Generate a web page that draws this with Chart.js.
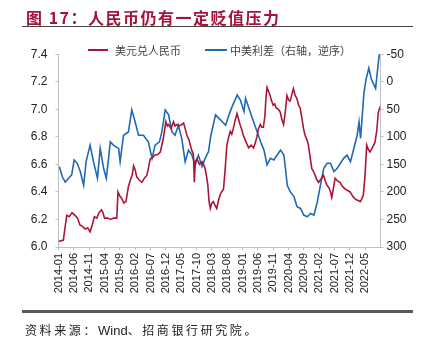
<!DOCTYPE html>
<html>
<head>
<meta charset="utf-8">
<script src="https://cdn.jsdelivr.net/npm/chart.js@4/dist/chart.umd.min.js"></script>
<style>
  html, body { margin: 0; padding: 0; background: #fff; }
  #wrap { position: relative; width: 424px; height: 348px; overflow: hidden; background: #fff; }
  #c { position: absolute; left: 0; top: 0; }
  .t { position: absolute; white-space: nowrap; }
  #title { left: 26px; top: 5px; font: bold 16px "Noto Sans CJK SC", "Liberation Sans", sans-serif; color: #A5123A; letter-spacing: 1.5px; }
  #rule1 { position: absolute; left: 22px; top: 25.5px; width: 391px; height: 1.5px; background: #444; }
  #rule2 { position: absolute; left: 22px; top: 310px; width: 391px; height: 2.5px; background: #595959; }
  #foot { left: 25px; top: 321px; font: 12px "Noto Sans CJK SC", sans-serif; color: #222; letter-spacing: 2.6px; }
  #foot span { font-family: "Liberation Sans", Arial, sans-serif; font-size: 13px; letter-spacing: 0; }
  .lg { font: 11px "Noto Sans CJK SC", sans-serif; color: #444; top: 42px; }
  .seg { position: absolute; height: 2px; top: 49px; }
</style>
</head>
<body>
<div id="wrap">
  <canvas id="c" width="424" height="348"></canvas>
  <div class="t" id="title">图 17：人民币仍有一定贬值压力</div>
  <div id="rule1"></div>
  <div class="seg" style="left:88px;width:20px;background:#AD1535"></div>
  <div class="t lg" style="left:115px">美元兑人民币</div>
  <div class="seg" style="left:205px;width:22px;background:#1F69B5"></div>
  <div class="t lg" style="left:230px">中美利差（右轴，逆序）</div>
  <div id="rule2"></div>
  <div class="t" id="foot">资料来源：<span>Wind</span>、招商银行研究院。</div>
</div>
<script>
// x-axis tick labels (every 5 months)
const tickLabels = ["2014-01","2014-06","2014-11","2015-04","2015-09","2016-02","2016-07","2016-12","2017-05","2017-10",
  "2018-03","2018-08","2019-01","2019-06","2019-11","2020-04","2020-09","2021-02","2021-07","2021-12","2022-05"];

// 美元兑人民币 (left axis)
const usdCnyDates = [
 "2014-01-01","2014-02-19","2014-03-01","2014-03-22","2014-04-16","2014-05-13","2014-06-13","2014-07-07","2014-08-01","2014-08-25",
 "2014-09-22","2014-10-16","2014-11-10","2014-12-01","2014-12-22","2015-01-16","2015-02-07","2015-03-01","2015-03-16","2015-04-01",
 "2015-05-01","2015-06-01","2015-07-01","2015-08-01","2015-08-13","2015-09-01","2015-09-22","2015-10-10","2015-11-01","2015-11-25",
 "2015-12-16","2016-01-01","2016-01-16","2016-02-01","2016-02-16","2016-03-07","2016-04-07","2016-05-01","2016-05-25","2016-06-13",
 "2016-06-28","2016-07-22","2016-08-16","2016-09-10","2016-10-07","2016-11-07","2016-12-01","2016-12-16","2016-12-28","2017-01-22",
 "2017-02-16","2017-03-01","2017-03-19","2017-04-16","2017-05-07","2017-05-25","2017-06-10","2017-06-28","2017-07-16","2017-08-01",
 "2017-08-16","2017-09-01","2017-09-10","2017-09-19","2017-10-04","2017-11-01","2017-11-25","2017-12-10","2017-12-25","2018-01-10",
 "2018-01-22","2018-02-04","2018-02-16","2018-03-01","2018-03-16","2018-04-04","2018-04-19","2018-05-07","2018-05-22","2018-06-07",
 "2018-06-25","2018-07-10","2018-07-28","2018-08-16","2018-09-01","2018-09-16","2018-10-01","2018-10-19","2018-11-07","2018-11-22",
 "2018-12-07","2018-12-25","2019-01-10","2019-02-07","2019-03-01","2019-03-25","2019-04-19","2019-05-07","2019-05-22","2019-06-07",
 "2019-06-25","2019-07-10","2019-07-25","2019-08-10","2019-08-22","2019-09-01","2019-09-16","2019-10-01","2019-10-16","2019-11-01",
 "2019-11-16","2019-12-01","2019-12-22","2020-01-10","2020-01-25","2020-02-13","2020-02-28","2020-03-16","2020-04-01","2020-04-16",
 "2020-05-01","2020-05-19","2020-06-07","2020-06-22","2020-07-10","2020-07-25","2020-08-13","2020-08-28","2020-09-13","2020-10-01",
 "2020-10-16","2020-11-01","2020-11-19","2020-12-04","2020-12-22","2021-01-07","2021-01-25","2021-02-16","2021-03-13","2021-04-01",
 "2021-04-16","2021-05-07","2021-05-22","2021-06-04","2021-06-19","2021-07-07","2021-08-01","2021-08-25","2021-09-19","2021-10-16",
 "2021-11-10","2021-12-04","2021-12-28","2022-01-22","2022-02-16","2022-03-13","2022-03-28","2022-04-13","2022-04-28","2022-05-16",
 "2022-06-01","2022-06-19","2022-07-10","2022-08-07","2022-08-25","2022-09-10","2022-09-28"
];
const usdCnyValues = [
 6.04,6.05,6.12,6.23,6.22,6.25,6.23,6.21,6.16,6.15,
 6.13,6.14,6.11,6.16,6.22,6.21,6.25,6.27,6.25,6.21,
 6.21,6.20,6.21,6.21,6.40,6.37,6.35,6.32,6.33,6.44,
 6.49,6.52,6.59,6.56,6.51,6.49,6.47,6.50,6.52,6.58,
 6.64,6.65,6.67,6.67,6.69,6.79,6.91,6.88,6.89,6.86,
 6.91,6.88,6.89,6.88,6.89,6.90,6.86,6.81,6.78,6.74,
 6.70,6.67,6.47,6.62,6.64,6.60,6.62,6.60,6.57,6.51,
 6.45,6.33,6.28,6.32,6.33,6.30,6.28,6.34,6.38,6.40,
 6.42,6.55,6.74,6.80,6.84,6.82,6.86,6.92,6.97,6.93,
 6.89,6.85,6.81,6.76,6.72,6.74,6.72,6.76,6.80,6.86,
 6.89,6.87,6.87,6.95,7.10,7.16,7.13,7.10,7.06,7.03,
 7.04,7.01,7.00,6.98,6.93,6.89,6.97,7.10,7.07,7.06,
 7.10,7.15,7.10,7.08,7.03,7.01,6.93,6.86,6.81,6.78,
 6.74,6.66,6.57,6.55,6.52,6.49,6.47,6.49,6.52,6.48,
 6.45,6.43,6.40,6.36,6.42,6.50,6.48,6.47,6.44,6.42,
 6.41,6.40,6.37,6.35,6.34,6.33,6.35,6.38,6.50,6.74,
 6.71,6.69,6.72,6.76,6.85,6.98,7.02
];

// 中美利差 (right axis, reversed, bp)
const spreadDates = [
 "2014-01-10","2014-02-07","2014-03-07","2014-04-10","2014-05-10","2014-06-04","2014-07-04","2014-08-04","2014-09-07","2014-10-01",
 "2014-11-10","2014-12-13","2015-01-22","2015-02-19","2015-03-22","2015-04-19","2015-05-28","2015-06-28","2015-08-19","2015-09-04",
 "2015-10-07","2015-11-25","2015-12-28","2016-02-01","2016-03-04","2016-04-22","2016-06-10","2016-07-16","2016-08-16","2016-09-28",
 "2016-10-22","2016-11-25","2016-12-28","2017-02-01","2017-03-01","2017-04-04","2017-05-07","2017-06-10","2017-07-13","2017-08-16",
 "2017-09-19","2017-10-19","2017-11-25","2017-12-25","2018-01-28","2018-02-22","2018-04-07","2018-05-25","2018-07-16","2018-08-19",
 "2018-09-19","2018-11-10","2018-12-10","2019-01-16","2019-02-01","2019-03-04","2019-04-07","2019-05-25","2019-06-28","2019-08-01",
 "2019-09-01","2019-10-04","2019-11-07","2019-12-10","2020-01-13","2020-02-16","2020-03-01","2020-03-19","2020-04-19","2020-05-25",
 "2020-06-25","2020-07-28","2020-09-01","2020-10-04","2020-11-07","2020-12-10","2021-01-13","2021-02-13","2021-03-16","2021-04-19",
 "2021-05-22","2021-06-25","2021-07-28","2021-08-28","2021-10-01","2021-11-04","2021-12-07","2022-01-10","2022-02-13","2022-03-01",
 "2022-03-16","2022-04-19","2022-05-10","2022-06-07","2022-07-01","2022-08-13","2022-09-07","2022-09-22","2022-10-01"
];
const spreadValues = [
 154,172,182,175,169,142,148,163,188,145,
 115,145,175,121,157,175,109,115,121,145,
 97,91,51,73,97,97,109,139,115,109,
 91,51,60,91,97,79,103,145,124,133,
 151,133,154,139,127,97,60,69,79,60,
 45,24,33,54,30,48,66,91,109,124,
 151,139,142,133,124,133,157,188,200,209,
 227,230,242,245,239,242,218,188,157,148,
 148,163,157,148,139,133,145,121,97,73,
 103,20,-5,-25,-5,12,-30,-55,-60
];

const leftTicks = { min: 6.0, max: 7.4, step: 0.2 };
const rightTicks = { min: -50, max: 300, step: 50 };

// months elapsed since 2014-01 (data time -> linear axis value)
function monthIndex(d) {
  const [y, m, day] = d.split('-').map(Number);
  return (y - 2014) * 12 + (m - 1) + (day - 1) / 30;
}
const pts = (dates, vals) => dates.map((d, i) => ({ x: monthIndex(d), y: vals[i] }));

const axisColor = '#bfbfbf';
const xFont = { family: '"Liberation Sans", Arial, sans-serif', size: 11 };
const yFont = { family: '"Liberation Sans", Arial, sans-serif', size: 12 };

new Chart(document.getElementById('c'), {
  type: 'line',
  data: {
    datasets: [
      { label: '美元兑人民币', data: pts(usdCnyDates, usdCnyValues), yAxisID: 'y', borderColor: '#AD1535', borderWidth: 1.6, pointRadius: 0, tension: 0, clip: 0 },
      { label: '中美利差（右轴，逆序）', data: pts(spreadDates, spreadValues), yAxisID: 'y1', borderColor: '#1F69B5', borderWidth: 1.6, pointRadius: 0, tension: 0, clip: 0 }
    ]
  },
  options: {
    responsive: false,
    animation: false,
    devicePixelRatio: 1,
    parsing: true,
    layout: { padding: { top: 54.3, left: 0, right: 0, bottom: 0 } },
    plugins: { legend: { display: false }, tooltip: { enabled: false } },
    scales: {
      x: {
        type: 'linear',
        min: 0, max: 105,
        afterFit: s => { s.height = 101; },
        afterBuildTicks: s => { s.ticks = tickLabels.map((_, i) => ({ value: i * 5 })).concat([{ value: 105 }]); },
        grid: { drawOnChartArea: false, drawTicks: true, tickLength: 3, color: axisColor },
        border: { display: true, color: axisColor, width: 1 },
        ticks: {
          autoSkip: false, maxRotation: 90, minRotation: 90, padding: 3,
          color: '#222', font: xFont,
          callback: v => (tickLabels[v / 5] !== undefined ? tickLabels[v / 5] : null)
        }
      },
      y: {
        position: 'left',
        min: leftTicks.min, max: leftTicks.max,
        afterFit: s => { s.width = 58.5; },
        grid: { drawOnChartArea: false, drawTicks: true, tickLength: 3, color: axisColor },
        border: { display: true, color: axisColor, width: 1 },
        ticks: { stepSize: leftTicks.step, padding: 8, color: '#222', font: yFont, callback: v => Number(v).toFixed(1) }
      },
      y1: {
        position: 'right',
        reverse: true,
        min: rightTicks.min, max: rightTicks.max,
        afterFit: s => { s.width = 43.5; },
        grid: { drawOnChartArea: false, drawTicks: true, tickLength: 3, color: axisColor },
        border: { display: true, color: axisColor, width: 1 },
        ticks: { stepSize: rightTicks.step, padding: 3, color: '#222', font: yFont }
      }
    }
  }
});
</script>
</body>
</html>
